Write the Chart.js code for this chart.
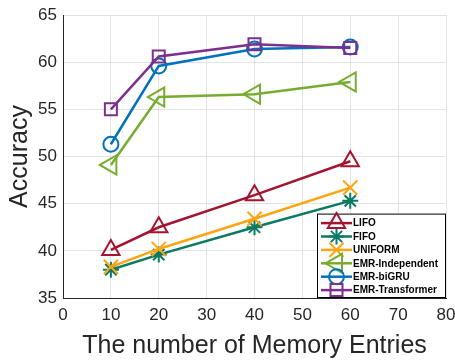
<!DOCTYPE html>
<html>
<head>
<meta charset="utf-8">
<script src="https://cdn.jsdelivr.net/npm/chart.js@4.4.0/dist/chart.umd.min.js"></script>
<style>
  html, body { margin: 0; padding: 0; background: #fff; }
  #wrap { width: 455px; height: 361px; }
</style>
</head>
<body>
<div id="wrap"><canvas id="chart" width="455" height="361"></canvas></div>
<script>
// datos
const memoryEntries = [10, 20, 40, 60];
const lifo = [40.1, 42.5, 45.9, 49.5];
const fifo = [38.0, 39.6, 42.5, 45.3];
const uniform = [38.3, 40.2, 43.4, 46.7];
const emrIndependent = [49.1, 56.3, 56.6, 57.9];
const emrBiGRU = [51.3, 59.6, 61.4, 61.6];
const emrTransformer = [55.0, 60.6, 61.9, 61.5];

const seriesNames = ['LIFO', 'FIFO', 'UNIFORM', 'EMR-Independent', 'EMR-biGRU', 'EMR-Transformer'];
const seriesValues = [lifo, fifo, uniform, emrIndependent, emrBiGRU, emrTransformer];

const xTicks = [0, 10, 20, 30, 40, 50, 60, 70, 80];
const yTicks = [35, 40, 45, 50, 55, 60, 65];

// estilos
const colors = ['#A2142F', '#0B7A63', '#FFA412', '#77AC30', '#0072BD', '#7E2F8E'];
const markers = ['triangle', 'star', 'crossRot', 'triangle', 'circle', 'rect'];
const rotations = [0, 0, 0, -90, 0, 0];
const radii = [10, 8, 10, 11, 7.5, 8.5];

const FONT = '"Liberation Sans", Arial, Helvetica, sans-serif';
const DARK = '#262626';

const datasets = seriesNames.map(function(name, i) {
    return {
        label: name,
        data: memoryEntries.map((x, j) => ({ x: x, y: seriesValues[i][j] })),
        borderColor: colors[i],
        backgroundColor: colors[i],
        borderWidth: 2.5,
        pointStyle: markers[i],
        pointRotation: rotations[i],
        pointRadius: radii[i],
        pointBorderWidth: 2,
        pointBorderColor: colors[i],
        pointBackgroundColor: 'rgba(0,0,0,0)',
        tension: 0,
        order: seriesNames.length - i
    };
});

// leyenda dibujada dentro del area del grafico
const insideLegend = {
    id: 'insideLegend',
    afterDraw: function(chart) {
        const ctx = chart.ctx;
        const area = chart.chartArea;
        const boxW = 128, rowH = 13.4;
        const boxH = rowH * seriesNames.length + 3;
        const bx = area.right - boxW - 1;
        const by = area.bottom - boxH - 1;
        ctx.save();
        ctx.fillStyle = '#fff';
        ctx.fillRect(bx, by, boxW, boxH);
        ctx.strokeStyle = '#000';
        ctx.lineWidth = 1;
        ctx.strokeRect(bx + 0.5, by + 0.5, boxW, boxH);
        seriesNames.forEach(function(name, i) {
            const cy = by + 9.5 + i * rowH;
            const x0 = bx + 4, x1 = bx + 35;
            ctx.strokeStyle = colors[i];
            ctx.lineWidth = 2.5;
            ctx.beginPath();
            ctx.moveTo(x0, cy);
            ctx.lineTo(x1, cy);
            ctx.stroke();
            ctx.lineWidth = 2;
            ctx.fillStyle = 'rgba(0,0,0,0)';
            Chart.helpers.drawPoint(ctx, {
                pointStyle: markers[i],
                rotation: rotations[i],
                radius: radii[i],
                borderWidth: 2
            }, (x0 + x1) / 2, cy);
            ctx.fillStyle = '#000';
            ctx.font = 'bold 10px ' + FONT;
            ctx.textBaseline = 'middle';
            ctx.textAlign = 'left';
            ctx.fillText(name, x1 + 1, cy + 0.5);
        });
        ctx.restore();
    }
};

new Chart(document.getElementById('chart'), {
    type: 'line',
    data: { datasets: datasets },
    options: {
        responsive: false,
        animation: false,
        // sin autoPadding: los marcadores grandes reservaban margen a la derecha
        layout: { autoPadding: false, padding: { top: 15, right: 9, left: 0, bottom: 0 } },
        plugins: {
            legend: { display: false },
            tooltip: { enabled: false }
        },
        scales: {
            x: {
                type: 'linear',
                min: xTicks[0],
                max: xTicks[xTicks.length - 1],
                afterBuildTicks: function(scale) {
                    scale.ticks = xTicks.map(v => ({ value: v }));
                },
                afterFit: function(scale) {
                    scale.height = 63;
                    scale.paddingLeft = 0;
                    scale.paddingRight = 0;
                },
                grid: { color: '#e3e3e3', lineWidth: 1, drawTicks: false },
                border: { color: DARK, width: 1 },
                ticks: { color: DARK, font: { family: FONT, size: 17 }, padding: 7, maxRotation: 0 },
                title: {
                    display: true,
                    text: 'The number of Memory Entries',
                    color: DARK,
                    font: { family: FONT, size: 25 },
                    padding: 0
                }
            },
            y: {
                type: 'linear',
                min: yTicks[0],
                max: yTicks[yTicks.length - 1],
                afterBuildTicks: function(scale) {
                    scale.ticks = yTicks.map(v => ({ value: v }));
                },
                afterFit: function(scale) {
                    scale.width = 63;
                    scale.paddingTop = 0;
                    scale.paddingBottom = 0;
                },
                grid: { color: '#e3e3e3', lineWidth: 1, drawTicks: false },
                border: { color: DARK, width: 1 },
                ticks: { color: DARK, font: { family: FONT, size: 17 }, padding: 6 },
                title: {
                    display: true,
                    text: 'Accuracy',
                    color: DARK,
                    font: { family: FONT, size: 25 },
                    padding: { top: 5, bottom: 0 }
                }
            }
        }
    },
    plugins: [insideLegend]
});
</script>
</body>
</html>
